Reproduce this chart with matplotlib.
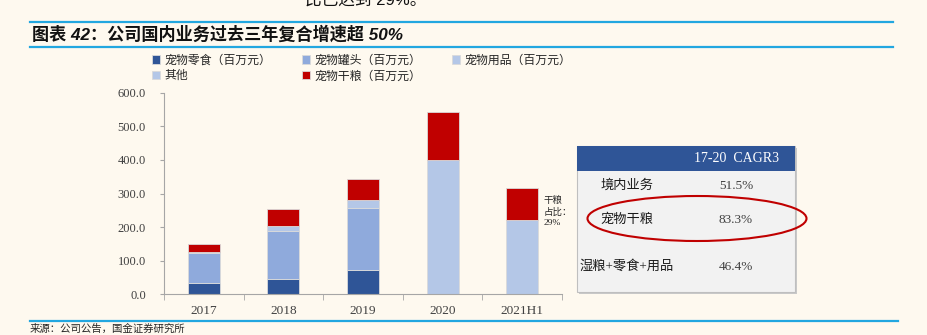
import matplotlib.pyplot as plt
from matplotlib.patches import Rectangle, Ellipse
import numpy as np

plt.rcParams['font.family'] = ['Liberation Serif', 'Noto Sans CJK SC']

# data (million yuan)
years = ['2017', '2018', '2019', '2020', '2021H1']
snack = [35, 45, 72, 0, 0]        # 宠物零食
can = [89, 142, 186, 0, 0]        # 宠物罐头
supplies = [3, 17, 23, 0, 0]      # 宠物用品
other = [0, 0, 0, 400, 221]       # 其他
dry = [23, 50, 63, 142, 94]       # 宠物干粮

series_names = ['宠物零食（百万元）', '宠物罐头（百万元）', '宠物用品（百万元）',
                '其他', '宠物干粮（百万元）']
series_colors = ['#2F5597', '#8FAADC', '#B4C7E7', '#B4C7E7', '#C00000']

table_rows = ['境内业务', '宠物干粮', '湿粮+零食+用品']
table_cagr = ['51.5%', '83.3%', '46.4%']
table_header = '17-20  CAGR3'

bg = '#FEF9EF'
W, H = 928, 335
fig = plt.figure(figsize=(W / 100, H / 100), dpi=100, facecolor=bg)

ax = fig.add_axes([164 / W, 1 - 294.3 / H, 398 / W, 201.6 / H])
ax.set_facecolor(bg)

x = np.arange(len(years))
width = 0.4
bottom = np.zeros(len(years))
handles = []
for vals, name, col in zip([snack, can, supplies, other, dry], series_names, series_colors):
    b = ax.bar(x, vals, width, bottom=bottom, color=col, label=name,
               edgecolor='#DADADA', linewidth=0.6)
    handles.append(b)
    bottom += np.array(vals)

ax.set_xlim(-0.5, len(years) - 0.5)
ax.set_ylim(0, 600)
ax.set_yticks(np.arange(0, 601, 100))
ax.set_yticklabels([f'{v:.1f}' for v in np.arange(0, 601, 100)])
ax.set_xticks(x)
ax.set_xticklabels(years)
ax.set_xticks(np.arange(-0.5, len(years)), minor=True)
ax.tick_params(axis='x', which='major', length=0, pad=8, labelsize=9.5, labelcolor='#404040')
ax.tick_params(axis='x', which='minor', length=4, color='#A6A6A6', direction='out')
ax.tick_params(axis='y', length=3, color='#A6A6A6', labelsize=9, labelcolor='#404040', pad=10)
for s in ['top', 'right']:
    ax.spines[s].set_visible(False)
for s in ['left', 'bottom']:
    ax.spines[s].set_color('#A6A6A6')
    ax.spines[s].set_linewidth(0.8)

# legend: order so rows read 零食/罐头/用品 then 其他/干粮
order = [0, 3, 1, 4, 2]
fig.legend([handles[i] for i in order], [series_names[i] for i in order],
           loc='upper left', bbox_to_anchor=(141 / W, 1 - 44 / H), ncol=3,
           frameon=False, fontsize=8.6, handlelength=0.7, handleheight=0.7,
           handletextpad=0.4, columnspacing=2.5, labelspacing=0.3,
           labelcolor='#262626')

# overlay in pixel coordinates for title, table and notes
ov = fig.add_axes([0, 0, 1, 1])
ov.set_xlim(0, W)
ov.set_ylim(H, 0)
ov.axis('off')

line_col = '#22A7E0'
ov.plot([30, 893], [22, 22], color=line_col, lw=1.6)
ov.plot([30, 893], [47, 47], color=line_col, lw=1.6)
ov.plot([30, 898], [320.5, 320.5], color=line_col, lw=1.6)

ov.text(305, 8, '比已达到 29%。', fontsize=12, va='bottom', ha='left',
        family=['Liberation Sans', 'Noto Sans CJK SC'], color='#111111')
ov.text(32, 33.5, '图表 42：公司国内业务过去三年复合增速超 50%', fontsize=12.3,
        fontweight='bold', style='italic', va='center', ha='left',
        family=['Liberation Sans', 'Noto Sans CJK SC'], color='#111111')
ov.text(30, 329, '来源：公司公告，国金证券研究所', fontsize=7.5, va='center',
        ha='left', color='#262626')

# 干粮占比 note next to 2021H1 bar
ov.text(544, 196, '干粮\n占比：\n29%', fontsize=6.8, va='top', ha='left',
        linespacing=1.35, color='#262626')

# CAGR table
ov.add_patch(Rectangle((579, 148), 218, 146, facecolor='#C9C9C9', edgecolor='none'))
ov.add_patch(Rectangle((577, 146), 218, 146, facecolor='#F2F2F2',
                       edgecolor='#BFBFBF', lw=0.8))
ov.add_patch(Rectangle((577, 146), 218, 25, facecolor='#2F5597', edgecolor='none'))
ov.text(737, 158.5, table_header, color='white', fontsize=10, ha='center', va='center')
row_y = [186, 220, 266.5]
for label, val, yy in zip(table_rows, table_cagr, row_y):
    ov.text(627, yy, label, fontsize=9.5, ha='center', va='center', color='#1A1A1A')
    ov.text(736, yy, val, fontsize=9.5, ha='center', va='center', color='#404040')
ov.add_patch(Ellipse((697, 218.5), 219, 45, facecolor='none', edgecolor='#C00000', lw=1.5))

fig.savefig('out.png', dpi=100, facecolor=bg)
